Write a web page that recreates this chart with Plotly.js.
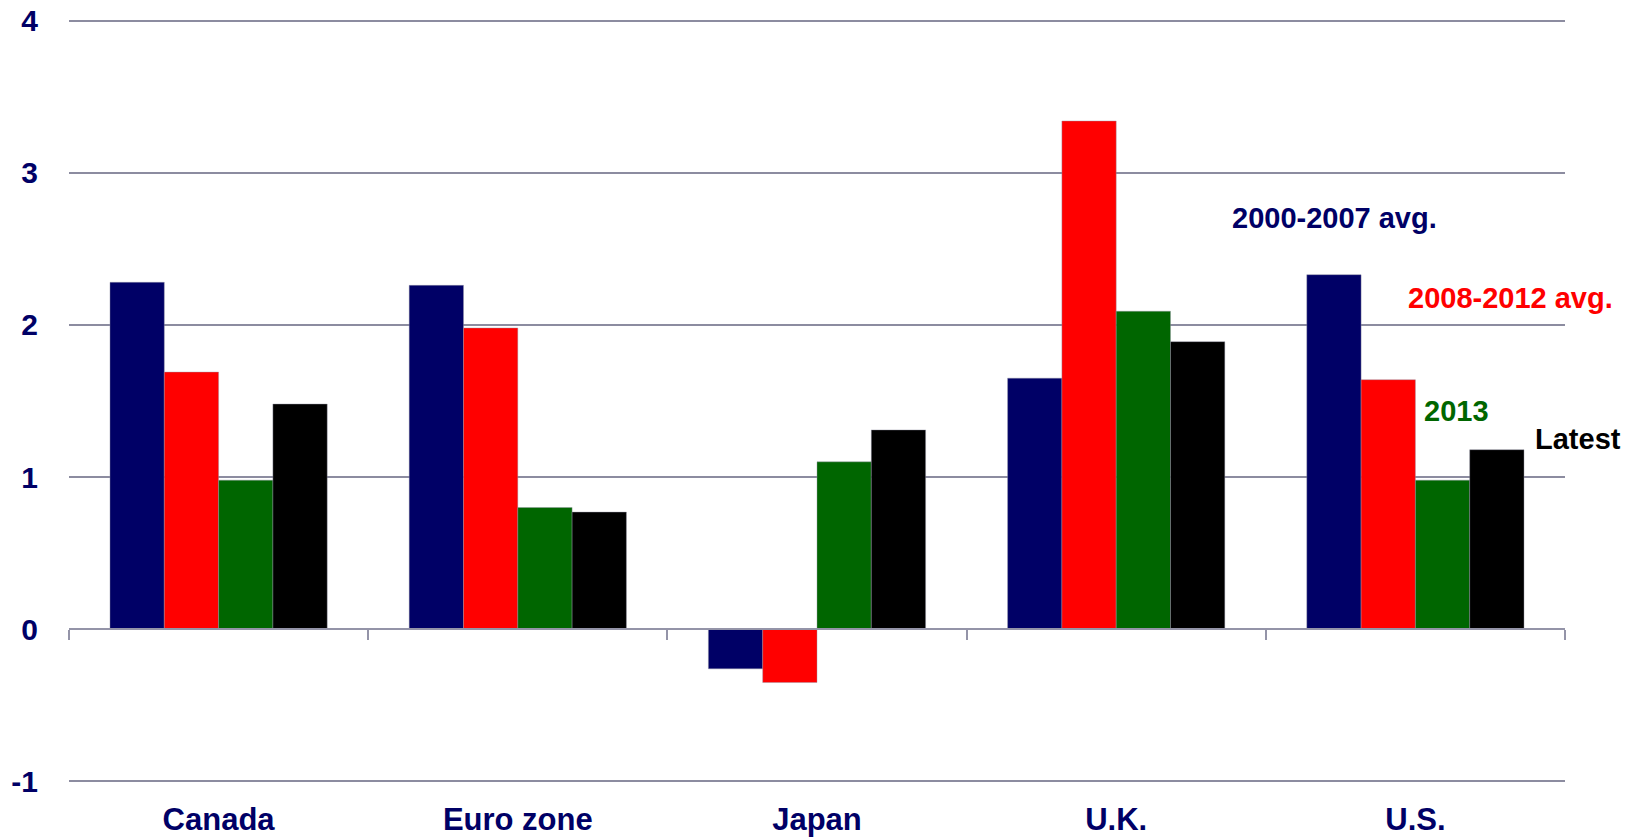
<!DOCTYPE html>
<html>
<head>
<meta charset="utf-8">
<script src="https://cdn.plot.ly/plotly-3.0.1.min.js"></script>
<style>html,body{margin:0;padding:0;background:#fff;}#chart{width:1637px;height:837px;}</style>
</head>
<body>
<div id="chart"></div>
<script>
const categories = ['Canada', 'Euro zone', 'Japan', 'U.K.', 'U.S.'];
const seriesNames = ['2000-2007 avg.', '2008-2012 avg.', '2013', 'Latest'];
const avg2000_2007 = [2.28, 2.26, -0.26, 1.65, 2.33];
const avg2008_2012 = [1.69, 1.98, -0.35, 3.34, 1.64];
const val2013 = [0.98, 0.80, 1.10, 2.09, 0.98];
const latest = [1.48, 0.77, 1.31, 1.89, 1.18];
const yTickVals = [-1, 0, 1, 2, 3, 4];
const yTickText = ['-1', '0', '1', '2', '3', '4'];
const boundaryTicks = [-0.5, 0.5, 1.5, 2.5, 3.5, 4.5];

const colors = ['#000066', '#FF0000', '#006600', '#000000'];
const FONT = '"Liberation Sans", Arial, sans-serif';
const seriesValues = [avg2000_2007, avg2008_2012, val2013, latest];

const traces = seriesValues.map((vals, i) => ({
  type: 'bar',
  name: seriesNames[i],
  x: categories,
  y: vals,
  marker: {color: colors[i], line: {color: 'rgba(150,150,165,0.7)', width: 0.6}},
  hoverinfo: 'x+y+name'
}));
// empty helper trace so that the boundary-tick axis at zero is rendered
traces.push({type: 'scatter', mode: 'markers', x: [], y: [], xaxis: 'x2', yaxis: 'y', hoverinfo: 'skip', showlegend: false});

const yMin = -1.03, yMax = 4.03;
const zeroFrac = (0 - yMin) / (yMax - yMin);

const annPos = [
  {x: 0.8456, y: 0.7408},
  {x: 0.9633, y: 0.6355},
  {x: 0.9278, y: 0.4868},
  {x: 1.0087, y: 0.45}
];

const layout = {
  width: 1637,
  height: 837,
  margin: {l: 69, r: 72, t: 16, b: 51},
  paper_bgcolor: '#ffffff',
  plot_bgcolor: '#ffffff',
  showlegend: false,
  barmode: 'group',
  bargap: 0.274,
  bargroupgap: 0,
  font: {family: FONT, color: '#000066'},
  xaxis: {
    type: 'category',
    categoryarray: categories,
    range: [-0.5, 4.5],
    showline: false,
    showgrid: false,
    zeroline: false,
    ticks: 'outside',
    ticklen: 6,
    tickcolor: 'rgba(0,0,0,0)',
    tickfont: {family: FONT, size: 31, color: '#000066', weight: 700}
  },
  xaxis2: {
    overlaying: 'x',
    anchor: 'free',
    position: zeroFrac,
    side: 'bottom',
    range: [-0.5, 4.5],
    showline: true,
    linecolor: '#9494A8',
    linewidth: 2,
    ticks: 'outside',
    tickvals: boundaryTicks,
    ticklen: 10,
    tickwidth: 2,
    tickcolor: '#9494A8',
    showticklabels: false,
    showgrid: false,
    zeroline: false
  },
  yaxis: {
    range: [yMin, yMax],
    tickvals: yTickVals,
    ticktext: yTickText,
    showgrid: true,
    gridcolor: '#8C8CA0',
    gridwidth: 2,
    zeroline: false,
    showline: false,
    ticks: 'outside',
    ticklen: 24,
    tickcolor: 'rgba(0,0,0,0)',
    tickfont: {family: FONT, size: 30, color: '#000066', weight: 700}
  },
  annotations: seriesNames.map((name, i) => ({
    xref: 'paper', yref: 'paper',
    x: annPos[i].x, y: annPos[i].y,
    xanchor: 'center', yanchor: 'middle',
    text: name,
    showarrow: false,
    font: {family: FONT, size: 29, color: colors[i], weight: 700}
  }))
};

// keep annotation positions tied to the same pixel spots after the range change
const plotH = 837 - 16 - 51;
layout.annotations.forEach(a => {
  const px = 781 - a.y * 760;            // pixel y in reference frame
  a.y = (837 - 51 - px) / plotH;
});

Plotly.newPlot('chart', traces, layout, {displayModeBar: false, staticPlot: true});
</script>
</body>
</html>
